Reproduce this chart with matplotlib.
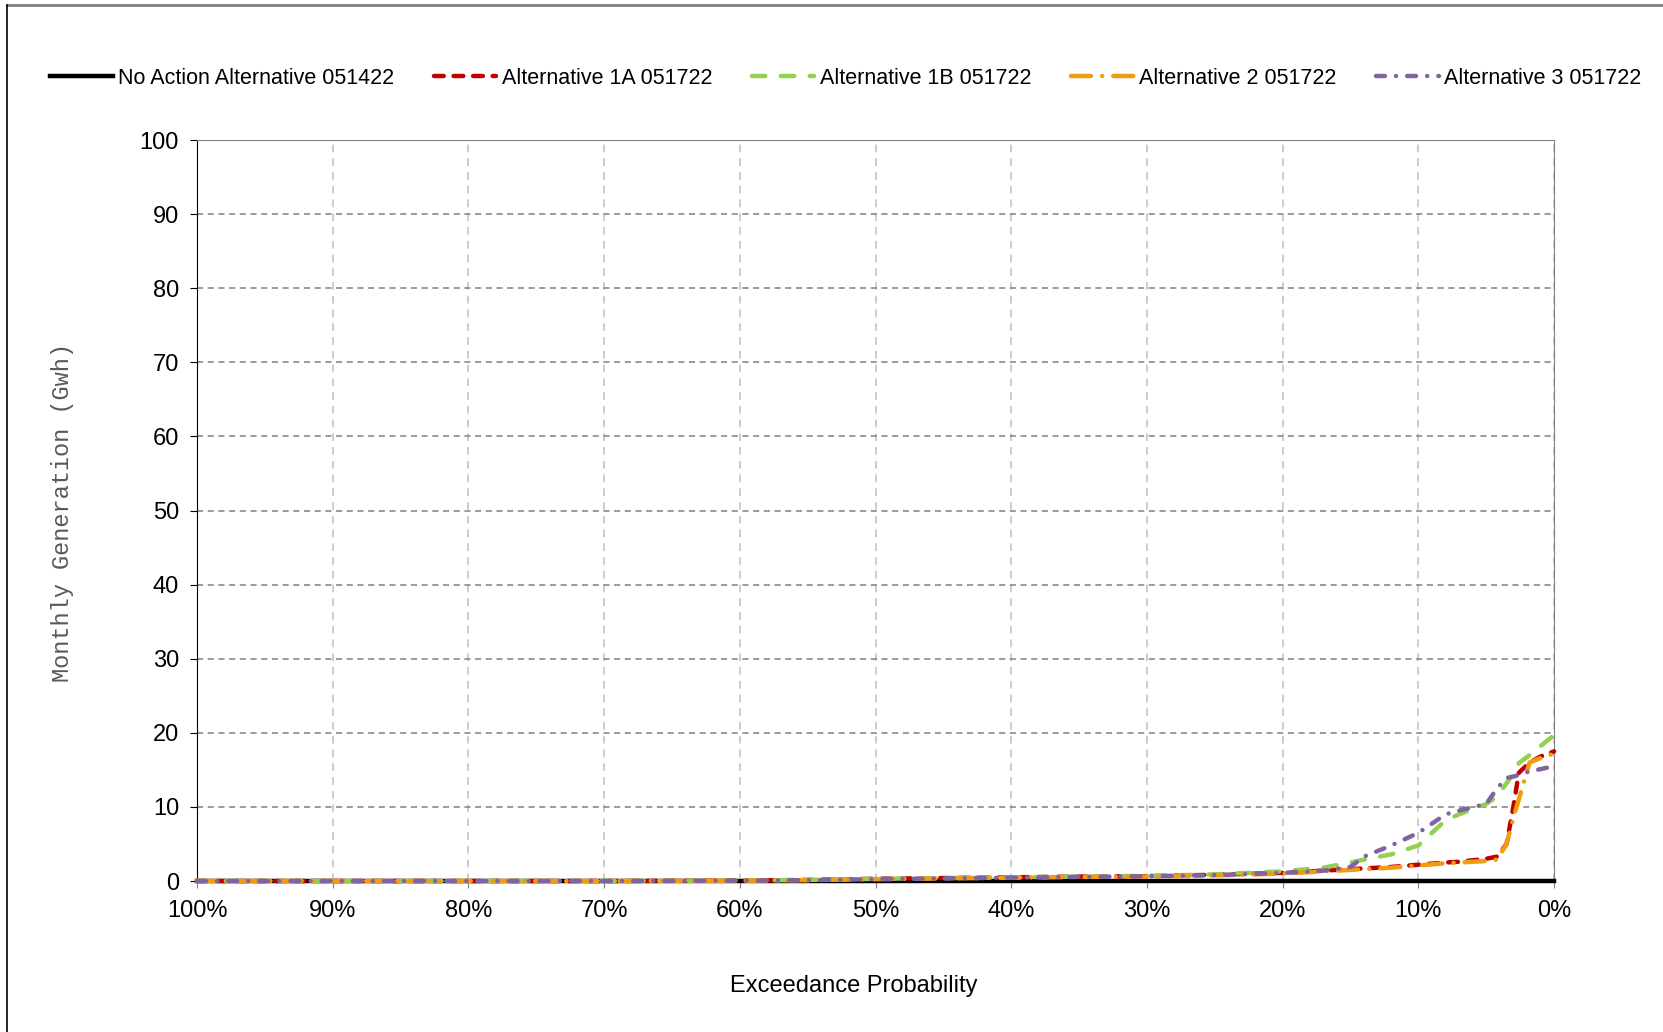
# Monthly generation exceedance curves
import matplotlib.pyplot as plt
from matplotlib.lines import Line2D

plt.rcParams['font.family'] = ['Liberation Sans', 'DejaVu Sans']

# exceedance probability (%), shared by all series
exceed = [100, 90, 80, 70, 60, 55, 50, 45, 40, 35, 30, 25, 20, 17, 15, 14, 12,
          10, 8, 7, 5, 4.2, 3.5, 3.0, 2.6, 1.8, 1.0, 0]

no_action = [0] * len(exceed)
alt_1a = [0, 0, 0, 0, 0.05, 0.15, 0.3, 0.4, 0.5, 0.6, 0.65, 0.85, 1.1, 1.4, 1.6, 1.7, 1.9,
          2.2, 2.5, 2.6, 3.0, 3.3, 5.0, 10.0, 14.6, 16.0, 16.8, 17.5]
alt_1b = [0, 0, 0, 0, 0.05, 0.15, 0.3, 0.4, 0.5, 0.6, 0.7, 0.9, 1.3, 1.8, 2.5, 2.9, 3.6,
          4.8, 8.2, 9.0, 10.4, 11.4, 13.2, 14.5, 15.9, 17.0, 18.2, 19.7]
alt_2 = [0, 0, 0, 0, 0.05, 0.12, 0.25, 0.35, 0.45, 0.55, 0.6, 0.75, 1.0, 1.3, 1.5, 1.6, 1.8,
         2.1, 2.4, 2.5, 2.7, 2.9, 5.0, 8.5, 11.0, 16.0, 16.6, 17.2]
alt_3 = [0, 0, 0, 0, 0.05, 0.12, 0.25, 0.35, 0.45, 0.55, 0.65, 0.8, 1.1, 1.4, 1.9, 3.3, 4.8,
         6.5, 9.0, 9.5, 10.4, 12.5, 13.9, 14.1, 14.3, 14.8, 15.1, 15.5]

labels = ["No Action Alternative 051422", "Alternative 1A 051722", "Alternative 1B 051722",
          "Alternative 2 051722", "Alternative 3 051722"]
x_ticks = [100, 90, 80, 70, 60, 50, 40, 30, 20, 10, 0]
y_ticks = [0, 10, 20, 30, 40, 50, 60, 70, 80, 90, 100]

fig = plt.figure(figsize=(16.63, 10.32), dpi=100)
ax = fig.add_axes([0.1185, 0.1463, 0.816, 0.718])

ax.plot(exceed, no_action, color='black', lw=3.2, label=labels[0], clip_on=False, zorder=3)
ax.plot(exceed, alt_1a, color='#C00000', lw=3.2, dashes=(2.2, 2.2), dash_capstyle='round',
        label=labels[1], clip_on=False, zorder=4)
ax.plot(exceed, alt_1b, color='#92D050', lw=3.2, dashes=(3, 3.5), dash_capstyle='round',
        label=labels[2], clip_on=False, zorder=4)
ax.plot(exceed, alt_2, color='#F29B11', lw=3.2, dashes=(4.5, 2.5, 0.01, 2.5), dash_capstyle='round',
        label=labels[3], clip_on=False, zorder=4)
ax.plot(exceed, alt_3, color='#8064A2', lw=3.2, dashes=(2, 2.5, 0.01, 2.5), dash_capstyle='round',
        label=labels[4], clip_on=False, zorder=4)

ax.set_xlim(100, 0)
ax.set_ylim(0, 100)
ax.set_xticks(x_ticks)
ax.set_xticklabels([f"{t}%" for t in x_ticks])
ax.set_yticks(y_ticks)
ax.tick_params(axis='both', labelsize=17, direction='out', length=5)
ax.tick_params(axis='x', colors='#808080', labelcolor='black', pad=9)
ax.tick_params(axis='y', pad=8)

ax.yaxis.grid(True, color='#808080', linestyle=(0, (4, 3)), lw=1.1)
ax.xaxis.grid(True, color='#BFBFBF', linestyle=(0, (5, 4)), lw=1.1)
ax.set_axisbelow(True)
for side in ['top', 'right', 'bottom']:
    ax.spines[side].set_color('#808080')
ax.spines['left'].set_color('black')

fig.text(63 / 1663, 0.503, "Monthly Generation (Gwh)", rotation=90, ha='center', va='center',
         family='Liberation Mono', fontsize=17, color='#595959')
fig.text(854 / 1663, 1 - 986 / 1032, "Exceedance Probability", ha='center', va='center',
         fontsize=17)

fig.legend(loc='center', bbox_to_anchor=(0.5085, 1 - 78 / 1032), ncol=5, frameon=False,
           fontsize=15.5, handlelength=2.9, handletextpad=0.25, columnspacing=1.85)

# chart area border
fig.add_artist(Line2D([7 / 1663, 1], [1 - 5 / 1032, 1 - 5 / 1032], color='#808080', lw=2))
fig.add_artist(Line2D([7 / 1663, 7 / 1663], [0, 1 - 5 / 1032], color='black', lw=1.2))

fig.savefig('out.png', dpi=100)
